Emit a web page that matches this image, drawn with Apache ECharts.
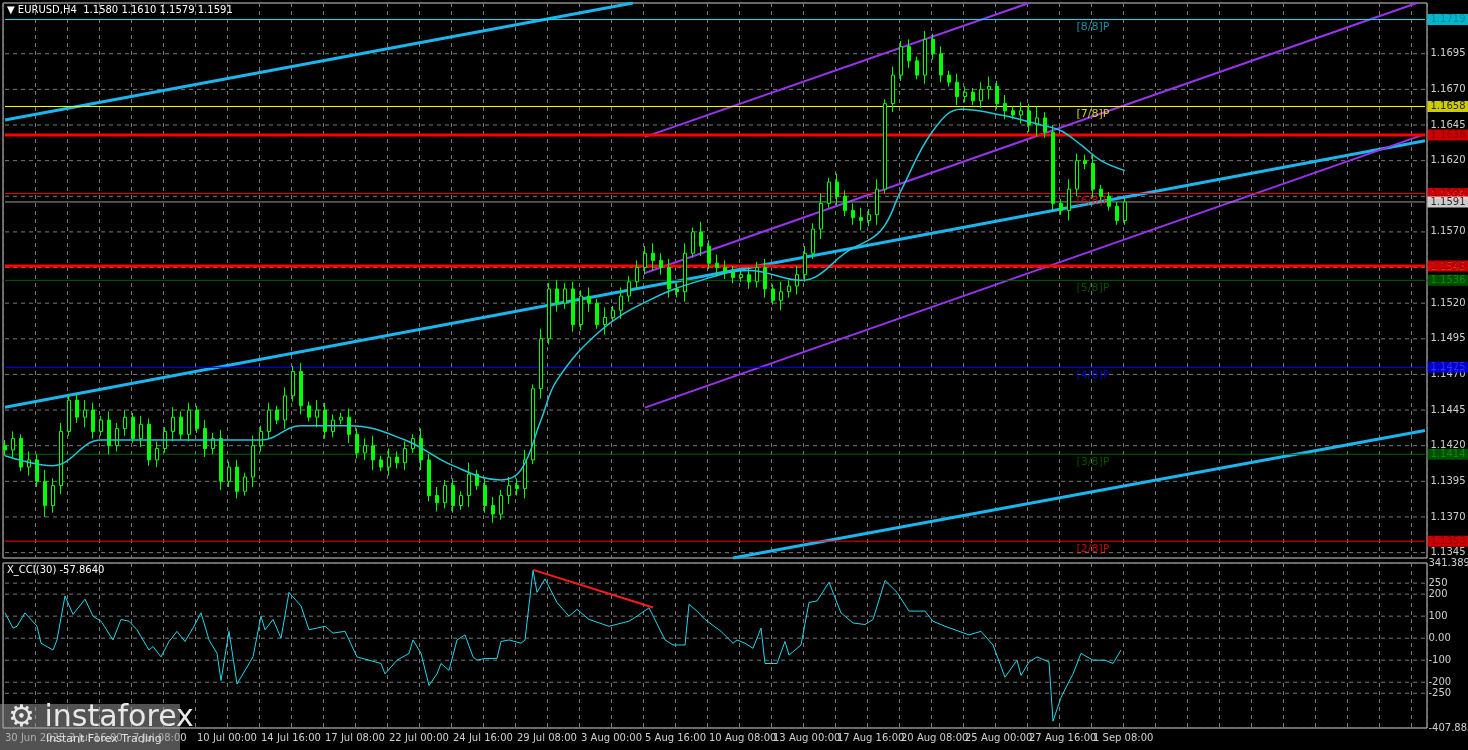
<!DOCTYPE html><html><head><meta charset="utf-8">
<script src="https://cdn.jsdelivr.net/npm/echarts@6/dist/echarts.min.js"></script>
<style>html,body{margin:0;background:#000}#c{width:1468px;height:750px}</style></head><body><div id="c"></div><script>
// closes in pips above 1.1000, one candle per two 4h slots
const closes=[417,425,405,410,395,378,392,430,452,440,445,430,438,420,432,440,425,435,410,418,430,440,428,445,432,418,425,395,405,388,398,420,430,445,438,455,472,448,440,445,430,438,440,428,415,420,410,405,412,408,418,425,410,385,380,392,378,385,400,392,378,372,385,392,390,410,460,495,530,520,530,505,525,520,505,510,515,525,535,545,555,550,545,530,528,555,570,560,548,545,542,538,540,535,545,530,522,528,532,540,555,572,590,605,595,585,580,578,582,600,660,680,700,690,680,705,695,680,675,665,668,662,670,672,660,655,652,655,645,650,640,590,585,600,620,618,600,595,588,578,591];
const wicks="45364856347536453645374536464537453646375436457364537464538356465737464546373645575647374654354637465473645747364536453643574636584537546";
const firstOpen=420;
const maPts=[[0,413],[12,406],[24,424],[50,424],[64,424],[74,434],[86,434],[100,424],[112,406],[124,396],[129,403],[134,438],[138,466],[149,501],[161,522],[174,536],[186,543],[199,536],[211,557],[219,571],[224,599],[232,641],[239,656],[249,652],[259,645],[264,641],[269,631],[274,620],[280,613]];
const cciPts=[[0,115],[2,46],[3,54],[5,115],[8,54],[9,-23],[12,-54],[13,-8],[15,192],[17,108],[20,177],[22,100],[24,77],[27,-8],[29,85],[31,77],[33,38],[36,-54],[37,-38],[39,-85],[41,-15],[43,31],[45,-15],[47,46],[49,115],[51,-8],[53,-69],[54,-192],[56,31],[58,-208],[62,-85],[64,100],[65,38],[67,85],[69,0],[71,208],[74,146],[76,38],[80,54],[82,23],[85,31],[88,-85],[91,-100],[94,-115],[95,-162],[98,-100],[101,-69],[102,-8],[104,-69],[106,-215],[108,-162],[109,-115],[111,-146],[113,-8],[115,15],[117,-85],[118,-100],[120,-92],[123,-92],[124,-15],[126,-8],[129,-23],[130,-8],[132,308],[133,208],[135,269],[138,162],[141,100],[143,131],[146,85],[151,54],[156,77],[158,100],[161,138],[165,-8],[167,-31],[170,-31],[171,154],[173,123],[175,85],[179,31],[182,-23],[183,-8],[185,-23],[187,-46],[189,46],[190,-115],[193,-115],[195,-15],[196,-77],[199,-31],[201,162],[203,169],[206,254],[209,115],[212,69],[215,62],[217,85],[220,262],[223,208],[226,123],[230,123],[232,77],[235,54],[241,15],[244,31],[247,-31],[250,-177],[253,-100],[254,-169],[256,-108],[258,-85],[261,-108],[262,-377],[264,-269],[267,-162],[269,-69],[272,-100],[275,-100],[277,-115],[279,-54]];
const cciDiv=[[132,310],[162,139]];
const tickIdx=[0,16,32,48,64,80,96,112,128,144,160,176,192,208,224,240,256,272];
const tickTxt=['30 Jun 2025','3 Jul 16:00','7 Jul 08:00','10 Jul 00:00','14 Jul 16:00','17 Jul 08:00','22 Jul 00:00','24 Jul 16:00','29 Jul 08:00','3 Aug 00:00','5 Aug 16:00','10 Aug 08:00','13 Aug 00:00','17 Aug 16:00','20 Aug 08:00','25 Aug 00:00','27 Aug 16:00','1 Sep 08:00'];
const priceTicks=[1.1345,1.1370,1.1395,1.1420,1.1445,1.1470,1.1495,1.1520,1.1545,1.1570,1.1595,1.1620,1.1645,1.1670,1.1695];
const cciTicks=[341.3899,250,200,100,0,-100,-200,-250,-407.883];
const cciTickTxt=['341.3899','250','200','100','0.00','-100','-200','-250','-407.883'];
const levels=[[1.1719,'#00e5ff',1,'#00e5ff','#087c8c','[8/8]P','#1fb3c8'],[1.1658,'#ffff00',1,'#ffff00','#000','[7/8]P','#ffff00'],[1.1638,'#ff0000',3,'#ff0000','#7a0000',null],[1.1597,'#ff0000',1,'#ff0000','#7a0000','[6/8]P','#ff0000'],[1.1591,'#9a9a9a',1,'#ffffff','#000',null],[1.1546,'#ff0000',3,'#ff0000','#7a0000',null],[1.1536,'#006400',1,'#006400','#00a000','[5/8]P','#006400'],[1.1475,'#0000ff',1,'#0000ff','#3a3aff','[4/8]P','#0000ff'],[1.1414,'#006400',1,'#006400','#00a000','[3/8]P','#006400'],[1.1353,'#ff0000',1,'#ff0000','#7a0000','[2/8]P','#ff0000']];
const blueLines=[[[0,1.16485],[156.5,1.17306]],[[0,1.1447],[355,1.1634]],[[182,1.13412],[355,1.14307]]];
const purpleLines=[[[160,1.16367],[255.5,1.17306]],[[160,1.15412],[352.5,1.17306]],[[160,1.14467],[355,1.16386]]];

const N=356,LAST=N-1;
const cats=[];for(let i=0;i<N;i++)cats.push(i);
const candles=[];let prev=firstOpen;
closes.forEach((c,k)=>{const o=prev,w=+wicks[k]||3;candles.push([2*k,1.1+o/1e4,1.1+c/1e4,1.1+(Math.min(o,c)-w)/1e4,1.1+(Math.max(o,c)+w)/1e4]);prev=c;});
const P=v=>1.1+v/1e4;
const xBase={type:'category',data:cats,boundaryGap:true,axisTick:{show:false},axisLine:{show:false},axisLabel:{show:false},
 splitLine:{show:true,interval:(i)=>i%8===0,lineStyle:{color:'#7a7a7a',type:[4,4],width:1}}};
const FONT='DejaVu Sans';
const A0={xAxisIndex:0,yAxisIndex:0},A1={xAxisIndex:1,yAxisIndex:1};
const series=[];
function hline(ax,v,color,width,dash,z){return {...ax,type:'line',data:[[0,v],[LAST,v]],symbol:'none',silent:true,lineStyle:{color,width,type:dash?[4,4]:'solid'},z};}
function endLabels(ax,vals,texts,styles,z){return {...ax,type:'scatter',symbolSize:1,itemStyle:{color:'rgba(0,0,0,0)'},clip:false,z,silent:true,labelLayout:{hideOverlap:false},
 data:vals.map((v,i)=>({value:[LAST,v],label:{show:true,position:'right',distance:5,formatter:texts[i],fontFamily:FONT,fontSize:10,...styles[i]}}))};}
priceTicks.forEach(v=>series.push(hline(A0,v,'#7a7a7a',1,true,1)));
series.push(endLabels(A0,priceTicks,priceTicks.map(v=>v.toFixed(4)),priceTicks.map(()=>({color:'#fff'})),2));
cciTicks.forEach(v=>series.push(hline(A1,v,'#7a7a7a',1,true,1)));
series.push(endLabels(A1,cciTicks,cciTickTxt,cciTicks.map(()=>({color:'#fff',distance:3})),2));
blueLines.forEach(l=>series.push({...A0,type:'line',data:l,symbol:'none',lineStyle:{color:'#1ab6ee',width:3},z:3}));
purpleLines.forEach(l=>series.push({...A0,type:'line',data:l,symbol:'none',lineStyle:{color:'#9933ee',width:2},z:3}));
levels.forEach(L=>series.push(hline(A0,L[0],L[1],L[2],false,4)));
series.push(endLabels(A0,levels.map(L=>L[0]),levels.map(L=>L[0].toFixed(4)),levels.map(L=>({color:L[4],backgroundColor:L[3],padding:[1,3,0,3],distance:2})),7));
const tags=levels.filter(L=>L[5]);
series.push({...A0,type:'scatter',symbolSize:1,itemStyle:{color:'rgba(0,0,0,0)'},z:4,silent:true,labelLayout:{hideOverlap:false},
 data:tags.map(L=>({value:[272,L[0]],label:{show:true,position:'bottom',distance:2,formatter:L[5],color:L[6],fontFamily:FONT,fontSize:11}}))});
series.push({...A0,type:'candlestick',data:candles,encode:{x:0,y:[1,2,3,4]},barWidth:3,itemStyle:{color:'#000000',borderColor:'#00ff00',color0:'#00ff00',borderColor0:'#00ff00',borderWidth:1},z:5});
series.push({...A0,type:'line',data:maPts.map(p=>[p[0],P(p[1])]),smooth:0.4,symbol:'none',lineStyle:{color:'#20c8d8',width:1.5},z:6});
series.push({...A1,type:'line',data:cciPts,symbol:'none',lineStyle:{color:'#20d8e8',width:1},z:5});
series.push({...A1,type:'line',data:cciDiv,symbol:'none',lineStyle:{color:'#ff1a1a',width:2},z:6});
series.push({...A1,type:'scatter',symbolSize:1,itemStyle:{color:'rgba(0,0,0,0)'},clip:false,silent:true,z:8,labelLayout:{hideOverlap:false},
 data:tickIdx.map((t,i)=>({value:[t,-407.883],label:{show:true,position:'bottom',distance:5,align:'left',offset:[-2,0],formatter:tickTxt[i],color:'#fff',fontFamily:FONT,fontSize:10}}))});
const chart=echarts.init(document.getElementById('c'));
chart.setOption({backgroundColor:'#000',animation:false,
grid:[{left:3,right:41,top:3,height:555,show:true,borderColor:'#d0d0d0',borderWidth:1},{left:3,right:41,top:563,height:165,show:true,borderColor:'#d0d0d0',borderWidth:1}],
xAxis:[{...xBase,gridIndex:0},{...xBase,gridIndex:1}],
yAxis:[{type:'value',gridIndex:0,min:1.13412,max:1.17306,scale:true,position:'right',axisLabel:{show:false},splitLine:{show:false},axisLine:{show:false},axisTick:{show:false}},
{type:'value',gridIndex:1,min:-407.883,max:341.3899,position:'right',axisLabel:{show:false},splitLine:{show:false},axisLine:{show:false},axisTick:{show:false}}],
series,
graphic:[{type:'text',left:7,top:5,z:100,style:{text:'▼ EURUSD,H4  1.1580 1.1610 1.1579 1.1591',fill:'#fff',font:'10px DejaVu Sans'}},
{type:'text',left:7,top:565,z:100,style:{text:'X_CCI(30) -57.8640',fill:'#fff',font:'10px DejaVu Sans'}},
{type:'rect',left:0,top:704,z:100,shape:{width:180,height:46},style:{fill:'rgba(150,150,150,0.55)'}},
{type:'text',left:8,top:703,z:101,style:{text:'⚙ instaforex',fill:'#e8e8e8',font:'30px DejaVu Sans'}},
{type:'text',left:46,top:734,z:101,style:{text:'Instant Forex Trading',fill:'#e0e0e0',font:'11px DejaVu Sans'}}]
});
</script></body></html>
